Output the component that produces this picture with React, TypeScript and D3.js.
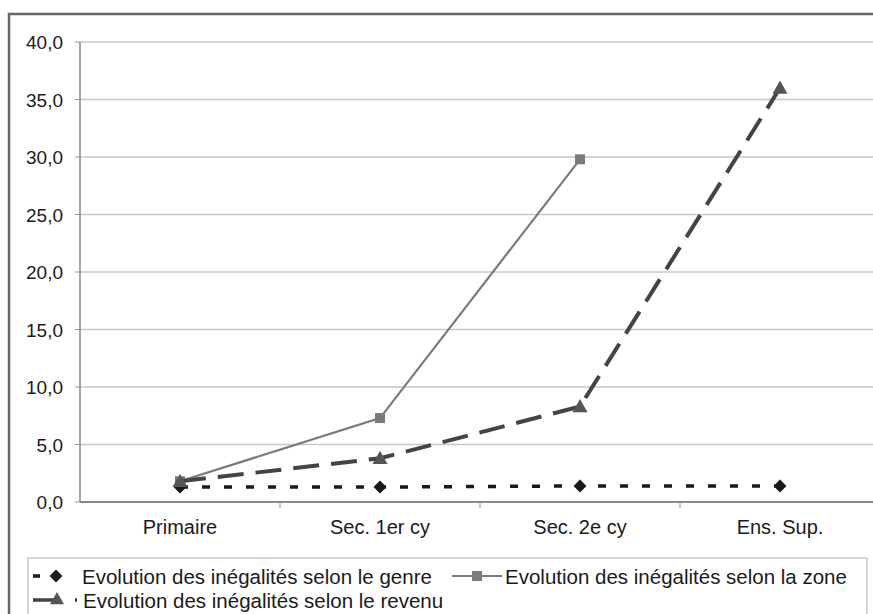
import React from "react";
import * as d3 from "d3";

const categories = ["Primaire", "Sec. 1er cy", "Sec. 2e cy", "Ens. Sup."];
const genre = [1.3, 1.3, 1.4, 1.4];
const zone: (number | null)[] = [1.8, 7.3, 29.8, null];
const revenu = [1.8, 3.8, 8.3, 36.0];
const yTicks = [0, 5, 10, 15, 20, 25, 30, 35, 40];
const legendLabels = [
  "Evolution des inégalités selon le genre",
  "Evolution des inégalités selon la zone",
  "Evolution des inégalités selon le revenu",
];

const W = 873;
const H = 614;
const left = 80;
const right = 880;
const top = 42;
const bottom = 502;

export default function App() {
  const x = d3.scaleBand<string>().domain(categories).range([left, right]);
  const y = d3.scaleLinear().domain([0, 40]).range([bottom, top]);
  const cx = (i: number) => (x(categories[i]) as number) + x.bandwidth() / 2;
  const line = d3
    .line<number | null>()
    .defined((d) => d !== null)
    .x((_, i) => cx(i))
    .y((d) => y(d as number));
  const font = "Arial, 'Liberation Sans', sans-serif";
  const diamond = (px: number, py: number, r: number) =>
    `M${px},${py - r}L${px + r},${py}L${px},${py + r}L${px - r},${py}Z`;
  const tri = (px: number, py: number, r: number) =>
    `M${px},${py - r}L${px + r},${py + r * 0.75}L${px - r},${py + r * 0.75}Z`;

  return (
    <svg
      width={W}
      height={H}
      style={{ position: "absolute", left: 0, top: 0, background: "#fff" }}
    >
      <rect x={9} y={14} width={W} height={H} fill="#fff" stroke="#666" strokeWidth={2.5} />
      {yTicks.map((t) => (
        <g key={t}>
          <line x1={left} x2={right} y1={y(t)} y2={y(t)} stroke={t === 0 ? "#888" : "#c8c8c8"} strokeWidth={t === 0 ? 2 : 1.3} />
          <line x1={left - 5} x2={left} y1={y(t)} y2={y(t)} stroke="#999" strokeWidth={1} />
          <text x={63} y={y(t) + 7} textAnchor="end" fontFamily={font} fontSize={19} fill="#1a1a1a">
            {t.toFixed(1).replace(".", ",")}
          </text>
        </g>
      ))}
      <line x1={left} x2={left} y1={top} y2={bottom} stroke="#888" strokeWidth={1.5} />
      {categories.map((c, i) => (
        <g key={c}>
          {i > 0 && (
            <line x1={x(c) as number} x2={x(c) as number} y1={bottom} y2={bottom + 6} stroke="#999" strokeWidth={1} />
          )}
          <text x={cx(i)} y={534} textAnchor="middle" fontFamily={font} fontSize={20} fill="#1a1a1a">
            {c}
          </text>
        </g>
      ))}
      {/* genre */}
      <path d={line(genre) || ""} fill="none" stroke="#1a1a1a" strokeWidth={3.5} strokeDasharray="8,14" />
      {genre.map((v, i) => (
        <path key={"g" + i} d={diamond(cx(i), y(v), 6.5)} fill="#1a1a1a" />
      ))}
      {/* zone */}
      <path d={line(zone) || ""} fill="none" stroke="#7a7a7a" strokeWidth={2.2} />
      {zone.map((v, i) =>
        v === null ? null : (
          <rect key={"z" + i} x={cx(i) - 5} y={y(v) - 5} width={10} height={10} fill="#7a7a7a" />
        )
      )}
      {/* revenu */}
      <path d={line(revenu) || ""} fill="none" stroke="#444" strokeWidth={4} strokeDasharray="26,12" />
      {revenu.map((v, i) => (
        <path key={"r" + i} d={tri(cx(i), y(v), 7.5)} fill="#555" />
      ))}
      {/* legend */}
      <rect x={28} y={558} width={839} height={80} fill="#fff" stroke="#bbb" strokeWidth={1.2} />
      <line x1={33} x2={62} y1={576} y2={576} stroke="#1a1a1a" strokeWidth={3.5} strokeDasharray="7,12" />
      <path d={diamond(56, 576, 6.5)} fill="#1a1a1a" />
      <text x={82} y={584} fontFamily={font} fontSize={20.5} fill="#1a1a1a">{legendLabels[0]}</text>
      <line x1={452} x2={502} y1={576} y2={576} stroke="#7a7a7a" strokeWidth={2.2} />
      <rect x={472} y={571} width={10} height={10} fill="#7a7a7a" />
      <text x={505} y={584} fontFamily={font} fontSize={20.5} fill="#1a1a1a">{legendLabels[1]}</text>
      <line x1={33} x2={80} y1={600} y2={600} stroke="#444" strokeWidth={3.5} strokeDasharray="24,18,2,10" />
      <path d={tri(57, 599, 7)} fill="#555" />
      <text x={83} y={608} fontFamily={font} fontSize={20.5} fill="#1a1a1a">{legendLabels[2]}</text>
    </svg>
  );
}
